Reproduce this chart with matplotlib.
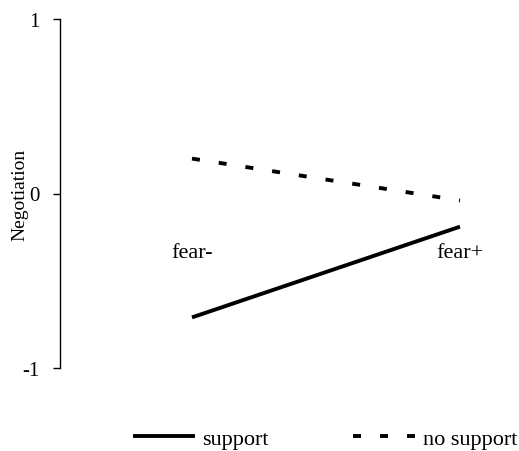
import matplotlib
matplotlib.use("Agg")
import matplotlib.pyplot as plt

plt.rcParams['font.family'] = ['Liberation Serif', 'DejaVu Serif']

conditions = ['fear-', 'fear+']
support = [-0.71, -0.19]
no_support = [0.20, -0.04]
yticks = [-1, 0, 1]

fig = plt.figure(figsize=(5.19, 4.52), dpi=100)
ax = fig.add_axes([60/519, 1 - 369/452, 459/519, 349/452])

x = [0, 1]
ax.plot(x, support, color='black', lw=2.8, solid_capstyle='butt', label='support')
ax.plot(x, no_support, color='black', lw=2.8, linestyle=(0, (2.05, 4.9)),
        dash_capstyle='butt', label='no support')

for xi, name in zip(x, conditions):
    ax.text(xi, -0.34, name, ha='center', va='center', fontsize=16)

ax.set_xlim(-132/268, 327/268)
ax.set_ylim(-1, 1)
ax.set_yticks(yticks)
ax.set_yticklabels([str(v) for v in yticks], fontsize=15)
ax.set_xticks([])
for s in ['top', 'right', 'bottom']:
    ax.spines[s].set_visible(False)
ax.spines['left'].set_linewidth(1.0)
ax.tick_params(axis='y', direction='out', length=5, width=1.0, pad=10)
ax.set_ylabel('Negotiation', fontsize=14, labelpad=-5)

fig.legend(loc='center', bbox_to_anchor=(0.626, 0.028), ncol=2, frameon=False,
           fontsize=16, handlelength=2.8, handletextpad=0.32, columnspacing=3.8)

fig.savefig('out.png', dpi=100)
